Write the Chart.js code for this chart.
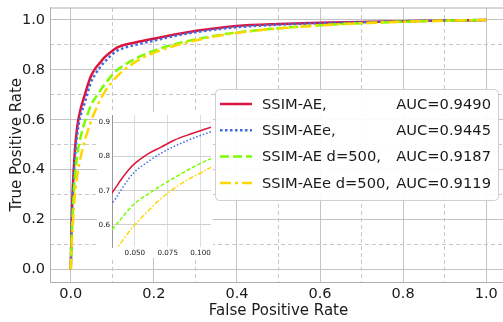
<!DOCTYPE html>
<html>
<head>
<meta charset="utf-8">
<script src="https://cdn.jsdelivr.net/npm/chart.js@4.4.1/dist/chart.umd.min.js"></script>
<style>
  html, body { margin: 0; padding: 0; background: #fff; overflow: hidden; }
  #wrap { position: relative; width: 503px; height: 322px; overflow: hidden; background: #fff; }
  #main { position: absolute; left: 0; top: 0; }
  #insetBox { position: absolute; left: 97px; top: 112px; width: 116px; height: 146px; background: #fff; }
</style>
</head>
<body>
<div id="wrap">
  <canvas id="main" width="520" height="322"></canvas>
  <div id="insetBox"><canvas id="inset" width="116" height="146"></canvas></div>
</div>
<script>
// ── Data ─────────────────────────────────────────────────────────────────────

const LABELS = ['SSIM-AE,', 'SSIM-AEe,', 'SSIM-AE d=500,', 'SSIM-AEe d=500,'];
const AUC = [0.9490, 0.9445, 0.9187, 0.9119];

// shared false-positive-rate grid
const FPR = [0, 0.002, 0.005, 0.01, 0.015, 0.02, 0.025, 0.03, 0.035, 0.04, 0.045, 0.05,
  0.06, 0.07, 0.08, 0.09, 0.1, 0.11, 0.125, 0.15, 0.175, 0.2, 0.25, 0.3, 0.35, 0.4,
  0.5, 0.6, 0.7, 0.8, 0.9, 1.0];

const TPR_AE = [0, 0.18, 0.33, 0.48, 0.565, 0.615, 0.652, 0.68, 0.707, 0.735, 0.76, 0.78,
  0.808, 0.828, 0.848, 0.863, 0.876, 0.888, 0.898, 0.908, 0.917, 0.925, 0.942, 0.956, 0.967, 0.976,
  0.984, 0.989, 0.992, 0.995, 0.998, 1.0];
const TPR_AEE = [0, 0.16, 0.30, 0.45, 0.535, 0.59, 0.625, 0.65, 0.675, 0.705, 0.733, 0.756,
  0.785, 0.81, 0.83, 0.847, 0.862, 0.875, 0.886, 0.898, 0.908, 0.917, 0.936, 0.951, 0.962, 0.971,
  0.981, 0.987, 0.991, 0.995, 0.998, 1.0];
const TPR_AE_D500 = [0, 0.12, 0.24, 0.37, 0.45, 0.505, 0.54, 0.572, 0.597, 0.62, 0.643, 0.663,
  0.69, 0.715, 0.738, 0.76, 0.78, 0.797, 0.815, 0.84, 0.86, 0.877, 0.903, 0.922, 0.938, 0.95,
  0.967, 0.979, 0.987, 0.993, 0.997, 1.0];
const TPR_AEE_D500 = [0, 0.09, 0.18, 0.30, 0.37, 0.42, 0.46, 0.495, 0.525, 0.55, 0.577, 0.60,
  0.64, 0.677, 0.707, 0.732, 0.752, 0.772, 0.795, 0.826, 0.85, 0.868, 0.897, 0.918, 0.935, 0.948,
  0.966, 0.978, 0.987, 0.993, 0.997, 1.0];

const SERIES = [TPR_AE, TPR_AEE, TPR_AE_D500, TPR_AEE_D500];

const X_TICKS = [0, 0.2, 0.4, 0.6, 0.8, 1.0];
const Y_TICKS = [0, 0.2, 0.4, 0.6, 0.8, 1.0];
const MINOR_TICKS = [0.1, 0.3, 0.5, 0.7, 0.9];
const INSET_X_TICKS = [0.05, 0.075, 0.1];
const INSET_Y_TICKS = [0.6, 0.7, 0.8, 0.9];

// ── Styles ───────────────────────────────────────────────────────────────────

const COLORS = ['#dc143c', '#4169e1', '#7cfc00', '#ffd700'];
const DASH_MAIN = [[], [2.5, 2.5], [9, 4], [11, 4, 3, 4]];
const DASH_INSET = [[], [1.5, 2], [4, 2], [5, 2, 1.5, 2]];
const FONT = 'DejaVu Sans';
const TEXT = '#1a1a1a';

Chart.defaults.font.family = FONT;
Chart.defaults.color = TEXT;

function buildDatasets(width, dashes) {
  return SERIES.map((s, i) => ({
    label: LABELS[i],
    data: FPR.map((x, j) => ({ x, y: s[j] })),
    borderColor: COLORS[i],
    borderDash: dashes[i],
    borderWidth: width,
    pointRadius: 0,
    cubicInterpolationMode: 'monotone',
    fill: false,
    order: SERIES.length - i,
  }));
}

const setTicks = list => scale => { scale.ticks = list.map(v => ({ value: v })); };

// keep fixed axis sizes, drop the label overhang padding
const fixWidth = w => s => { s.width = w; s.paddingTop = 0; s.paddingBottom = 0; };
const fixHeight = h => s => { s.height = h; s.paddingLeft = 0; s.paddingRight = 0; };

// ── Plugins ──────────────────────────────────────────────────────────────────

const framePlugin = {
  id: 'frame',
  afterDatasetsDraw(chart) {
    const { ctx, chartArea: a } = chart;
    ctx.save();
    ctx.strokeStyle = '#b0b0b0';
    ctx.lineWidth = 1;
    ctx.beginPath();
    ctx.moveTo(a.left, a.top + 0.5);
    ctx.lineTo(a.right, a.top + 0.5);
    ctx.lineTo(a.right, a.bottom);
    ctx.stroke();
    ctx.restore();
  },
};

const legendBox = {
  id: 'legendBox',
  afterDraw(chart) {
    const { ctx } = chart;
    const x0 = 215.5, y0 = 89.5, w = 283, h = 111, r = 4;
    ctx.save();
    ctx.beginPath();
    ctx.roundRect(x0, y0, w, h, r);
    ctx.fillStyle = 'rgba(255,255,255,0.92)';
    ctx.fill();
    ctx.strokeStyle = '#cfcfcf';
    ctx.lineWidth = 1;
    ctx.stroke();

    ctx.font = `14.7px "${FONT}"`;
    ctx.textBaseline = 'middle';
    chart.data.datasets.forEach((ds, i) => {
      const y = 104 + i * 26.3;
      ctx.beginPath();
      ctx.setLineDash(ds.borderDash);
      ctx.strokeStyle = ds.borderColor;
      ctx.lineWidth = 2.5;
      ctx.moveTo(220, y);
      ctx.lineTo(252, y);
      ctx.stroke();
      ctx.setLineDash([]);
      ctx.fillStyle = TEXT;
      ctx.textAlign = 'left';
      ctx.fillText(LABELS[i], 262, y + 1);
      ctx.textAlign = 'right';
      ctx.fillText(`AUC=${AUC[i].toFixed(4)}`, 491, y + 1);
    });
    ctx.restore();
  },
};

// ── Main chart ───────────────────────────────────────────────────────────────

new Chart(document.getElementById('main'), {
  type: 'line',
  data: { datasets: buildDatasets(2.5, DASH_MAIN) },
  options: {
    responsive: false,
    animation: false,
    layout: { padding: { top: 7.5, right: 13, left: 0, bottom: 0 } },
    plugins: { legend: { display: false }, tooltip: { enabled: false } },
    scales: {
      x: {
        type: 'linear', position: 'bottom', min: -0.05, max: 1.05,
        afterBuildTicks: setTicks(X_TICKS),
        afterFit: fixHeight(40),
        ticks: { callback: v => v.toFixed(1), font: { size: 14.5 }, padding: 4, maxRotation: 0, autoSkip: false },
        grid: { color: '#c4c4c4', lineWidth: 1, drawTicks: false },
        border: { color: '#b0b0b0', width: 1 },
        title: { display: true, text: 'False Positive Rate', font: { size: 15 }, padding: { top: 0, bottom: 2 } },
      },
      y: {
        type: 'linear', position: 'left', min: -0.05, max: 1.05,
        afterBuildTicks: setTicks(Y_TICKS),
        afterFit: fixWidth(50),
        ticks: { callback: v => v.toFixed(1), font: { size: 14.5 }, padding: 5, autoSkip: false },
        grid: { color: '#c4c4c4', lineWidth: 1, drawTicks: false },
        border: { color: '#b0b0b0', width: 1 },
        title: { display: true, text: 'True Positive Rate', font: { size: 15 }, padding: { top: 8, bottom: 0 } },
      },
      xMinor: {
        type: 'linear', position: 'top', min: -0.05, max: 1.05,
        afterBuildTicks: setTicks(MINOR_TICKS),
        afterFit: fixHeight(0),
        ticks: { display: false },
        grid: { color: '#c8c8c8', lineWidth: 1, drawTicks: false },
        border: { display: false, dash: [4, 3] },
      },
      yMinor: {
        type: 'linear', position: 'right', min: -0.05, max: 1.05,
        afterBuildTicks: setTicks(MINOR_TICKS),
        afterFit: fixWidth(0),
        ticks: { display: false },
        grid: { color: '#c8c8c8', lineWidth: 1, drawTicks: false },
        border: { display: false, dash: [4, 3] },
      },
    },
  },
  plugins: [framePlugin, legendBox],
});

// ── Zoomed inset ─────────────────────────────────────────────────────────────

new Chart(document.getElementById('inset'), {
  type: 'line',
  data: { datasets: buildDatasets(1.5, DASH_INSET) },
  options: {
    responsive: false,
    animation: false,
    layout: { padding: { top: 3, right: 2, left: 0, bottom: 0 } },
    plugins: { legend: { display: false }, tooltip: { enabled: false } },
    scales: {
      x: {
        type: 'linear', min: 0.0326, max: 0.108,
        afterBuildTicks: setTicks(INSET_X_TICKS),
        afterFit: fixHeight(11),
        ticks: { callback: v => v.toFixed(3), font: { size: 7.2 }, padding: 2, maxRotation: 0, autoSkip: false },
        grid: { color: '#dedede', drawTicks: false },
        border: { display: false },
      },
      y: {
        type: 'linear', min: 0.535, max: 0.922,
        afterBuildTicks: setTicks(INSET_Y_TICKS),
        afterFit: fixWidth(15),
        ticks: { callback: v => v.toFixed(1), font: { size: 7.2 }, padding: 2, autoSkip: false },
        grid: { color: '#cfcfcf', drawTicks: false },
        border: { color: '#999999', width: 1 },
      },
    },
  },
});
</script>
</body>
</html>
